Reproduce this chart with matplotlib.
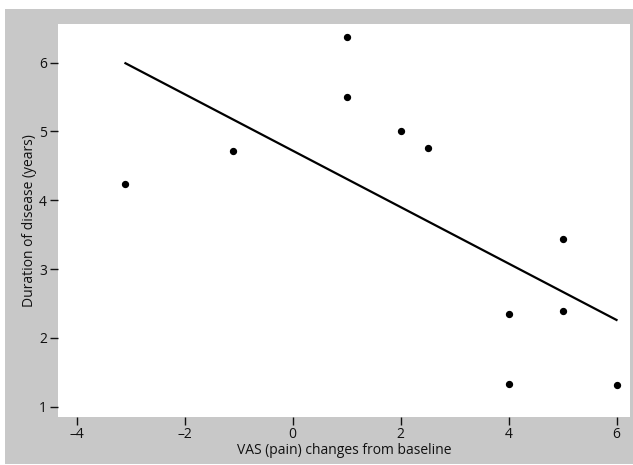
import matplotlib.pyplot as plt
from matplotlib.patches import Rectangle

# VAS change vs disease duration, one point per patient
vas_change = [-3.1, -1.1, 1.0, 1.0, 2.0, 2.5, 5.0, 4.0, 5.0, 4.0, 6.0]
duration = [4.24, 4.71, 6.37, 5.50, 5.01, 4.76, 3.44, 2.34, 2.39, 1.33, 1.31]

# regression line end points
fit_x = [-3.1, 6.0]
fit_y = [5.99, 2.26]

x_ticks = [-4, -2, 0, 2, 4, 6]
x_tick_labels = ['\u20134', '\u20132', '0', '2', '4', '6']
y_ticks = [1, 2, 3, 4, 5, 6]

plt.rcParams['font.family'] = ['Open Sans', 'DejaVu Sans']

fig = plt.figure(figsize=(6.33, 4.65), dpi=100, facecolor='white')
W, H = 633, 465
# gray panel behind the axes
fig.patches.append(Rectangle((5 / W, 1 - 464 / H), 628 / W, 455 / H,
                             transform=fig.transFigure, facecolor='#c8c8c8',
                             edgecolor='none', zorder=-1))

ax = fig.add_axes([58 / W, 1 - 417 / H, 572 / W, 393 / H])
ax.set_zorder(1)
ax.set_facecolor('white')
for s in ax.spines.values():
    s.set_visible(False)

ax.scatter(vas_change, duration, s=18, color='black', zorder=3)
ax.plot(fit_x, fit_y, color='black', lw=1.6)

ax.set_xlim(-4.35, 6.25)
ax.set_ylim(0.85, 6.56)
ax.set_xticks(x_ticks)
ax.set_xticklabels(x_tick_labels)
ax.set_yticks(y_ticks)
ax.tick_params(direction='out', length=6, width=1, colors='#111111',
               labelsize=10, pad=2)
ax.tick_params(axis='x', pad=1)

ax.set_xlabel('VAS (pain) changes from baseline', fontsize=10, labelpad=1,
              color='#111111')
ax.set_ylabel('Duration of disease (years)', fontsize=10, labelpad=1,
              color='#111111')

fig.savefig('out.png', dpi=100, facecolor=fig.get_facecolor())
